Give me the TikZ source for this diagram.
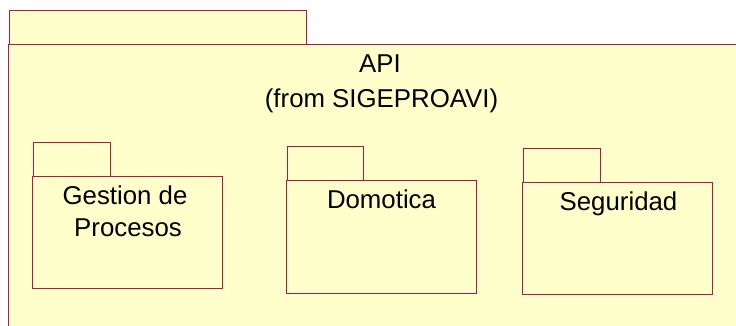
\documentclass[tikz,border=0pt]{standalone}
\usepackage{fontspec}
\setmainfont{Liberation Sans}
\definecolor{pkgline}{RGB}{176,24,72}
\definecolor{pkgfill}{RGB}{255,255,204}
\begin{document}
\begin{tikzpicture}[x=1bp,y=-1bp,
  pkgbox/.style={draw=pkgline,fill=pkgfill,line width=1.1bp,inner sep=0pt,anchor=north west},
  pkgtext/.style={font=\fontsize{25.9pt}{31pt}\selectfont,inner sep=0pt,anchor=base,text=black}]
\useasboundingbox (0,0) rectangle (736,325);
\begin{scope}
\clip (0,0) rectangle (736,325);
% outer package API
\node[pkgbox,minimum width=297bp,minimum height=34bp] (apitab) at (9,10) {};
\node[pkgbox,minimum width=740bp,minimum height=300bp] (apibody) at (8,44) {};
\end{scope}
\node[pkgtext] (apiname) at (380,72) {API};
\node[pkgtext] (apifrom) at (381.5,107) {(from SIGEPROAVI)};
% Gestion de Procesos
\node[pkgbox,minimum width=77bp,minimum height=34bp] (gptab) at (33,142) {};
\node[pkgbox,minimum width=190bp,minimum height=112bp] (gpbody) at (32,176) {};
\node[pkgtext] (gpname1) at (125,204) {Gestion de};
\node[pkgtext] (gpname2) at (128,236) {Procesos};
% Domotica
\node[pkgbox,minimum width=76bp,minimum height=34bp] (dotab) at (287,146) {};
\node[pkgbox,minimum width=190bp,minimum height=113bp] (dobody) at (286,180) {};
\node[pkgtext] (doname) at (381.5,208) {Domotica};
% Seguridad
\node[pkgbox,minimum width=77bp,minimum height=34bp] (setab) at (523,148) {};
\node[pkgbox,minimum width=190bp,minimum height=112bp] (sebody) at (522,182) {};
\node[pkgtext] (sename) at (618.5,210) {Seguridad};
\end{tikzpicture}
\end{document}
